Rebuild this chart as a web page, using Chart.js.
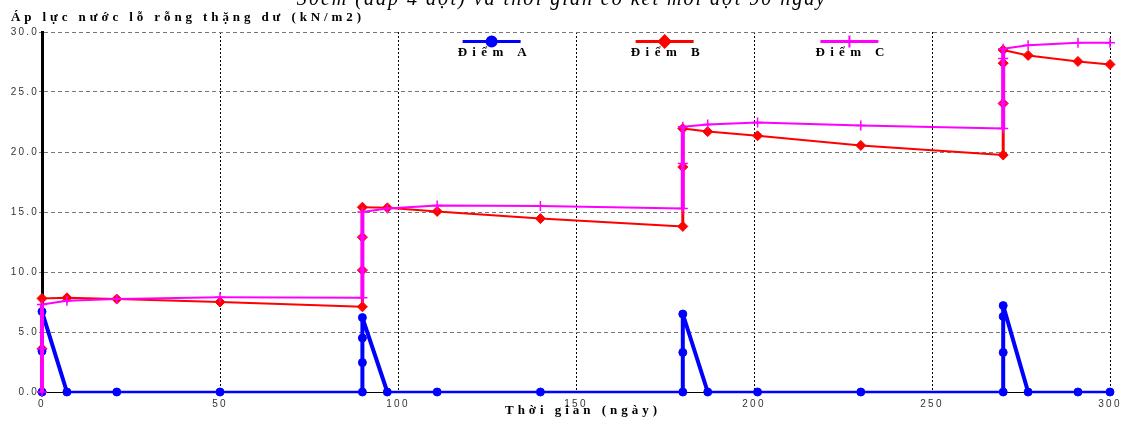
<!DOCTYPE html>
<html>
<head>
<meta charset="utf-8">
<script src="https://cdn.jsdelivr.net/npm/chart.js@4/dist/chart.umd.min.js"></script>
<style>
  html, body { margin: 0; padding: 0; background: #fff; }
</style>
</head>
<body>
<canvas id="myChart" width="1125" height="421"></canvas>
<script>
// texts
const topTitle = '30cm (đắp 4 đợt) và thời gian cố kết mỗi đợt 90 ngày';
const yTitle = 'Áp lực nước lỗ rỗng thặng dư (kN/m2)';
const xTitle = 'Thời gian (ngày)';
const labels = ['Điểm A', 'Điểm B', 'Điểm C'];

// ticks
const xTicks = [0, 50, 100, 150, 200, 250, 300];
const yTicks = [0, 5, 10, 15, 20, 25, 30];

// time (days), shared by all three points
const days = [0, 0, 0, 7, 21, 50, 90, 90, 90, 90, 97, 111, 140, 180, 180, 180, 187, 201, 230, 270, 270, 270, 270, 277, 291, 300];

// excess pore pressure (kN/m2)
const valA = [0, 3.4, 6.7, 0, 0, 0, 0, 2.45, 4.5, 6.2, 0, 0, 0, 0, 3.3, 6.5, 0, 0, 0, 0, 3.3, 6.3, 7.2, 0, 0, 0];
const valB = [0, 3.6, 7.8, 7.85, 7.75, 7.5, 7.1, 10.15, 12.9, 15.4, 15.35, 15.05, 14.45, 13.8, 18.75, 21.95, 21.7, 21.35, 20.55, 19.75, 24.05, 27.4, 28.5, 28.05, 27.55, 27.3];
const valC = [0, 3.6, 7.3, 7.6, 7.75, 7.9, 7.85, 10.15, 12.9, 15.0, 15.3, 15.55, 15.5, 15.3, 19.05, 22.1, 22.3, 22.45, 22.2, 21.95, 24.05, 27.8, 28.6, 28.9, 29.1, 29.1];

const pts = vals => days.map((d, i) => ({ x: d, y: vals[i] }));
const vertical = c => c.p0.parsed.x === c.p1.parsed.x;

// set text so that it spans a given width (old report fonts are letter-spaced)
function fitText(ctx, text, font, width) {
  ctx.font = font;
  ctx.letterSpacing = '0px';
  const w0 = ctx.measureText(text).width;
  const ls = Math.max(0, (width - w0) / Math.max(1, text.length - 1));
  ctx.letterSpacing = ls + 'px';
  return ls;
}

const textPlugin = {
  id: 'texts',
  beforeDraw(chart) {
    chart.ctx.letterSpacing = '2.2px';
  },
  afterDraw(chart) {
    const ctx = chart.ctx;
    const a = chart.chartArea;
    ctx.save();
    ctx.fillStyle = '#000';

    // cut-off caption at the very top
    ctx.textAlign = 'left';
    ctx.textBaseline = 'alphabetic';
    fitText(ctx, topTitle, 'italic 20px "Liberation Serif"', 528);
    ctx.fillText(topTitle, 297, 5);

    // y title
    fitText(ctx, yTitle, 'bold 13px "Liberation Serif"', 350);
    ctx.fillText(yTitle, 11, 21);

    // x title
    ctx.textBaseline = 'middle';
    fitText(ctx, xTitle, 'bold 13px "Liberation Serif"', 152);
    ctx.fillText(xTitle, 505, 411);

    // legend
    const pos = [0.421, 0.583, 0.756];
    chart.data.datasets.forEach((ds, i) => {
      const cx = a.left + a.width * pos[i];
      const ly = a.top + 9.5;
      ctx.letterSpacing = '0px';
      ctx.strokeStyle = ds.borderColor;
      ctx.fillStyle = ds.borderColor;
      ctx.lineWidth = 3;
      ctx.beginPath();
      ctx.moveTo(cx - 29, ly);
      ctx.lineTo(cx + 29, ly);
      ctx.stroke();
      ctx.lineWidth = 2;
      Chart.helpers.drawPoint(ctx, {
        pointStyle: ds.pointStyle,
        radius: ds.pointRadius + 1,
        borderWidth: 2,
        rotation: 0
      }, cx, ly);
      ctx.fillStyle = '#000';
      ctx.textAlign = 'left';
      fitText(ctx, ds.label, 'bold 13px "Liberation Serif"', 69);
      ctx.fillText(ds.label, cx - 34, a.top + 21);
    });
    ctx.restore();
    ctx.letterSpacing = '0px';
  }
};

const tickFont = { family: '"Liberation Sans", Arial, sans-serif', size: 10 };

const data = {
  datasets: [
    {
      label: labels[0],
      data: pts(valA),
      borderColor: '#0000ff',
      backgroundColor: '#0000ff',
      pointStyle: 'circle',
      pointRadius: 4,
      pointBorderWidth: 1,
      borderWidth: 2.5,
      borderJoinStyle: 'round',
      segment: { borderWidth: c => c.p0.parsed.y === c.p1.parsed.y ? 2.5 : 4 },
      order: 1
    },
    {
      label: labels[1],
      data: pts(valB),
      borderColor: '#ff0000',
      backgroundColor: '#ff0000',
      pointStyle: 'rectRot',
      pointRadius: 5,
      pointBorderWidth: 1,
      borderWidth: 2,
      borderJoinStyle: 'round',
      segment: { borderWidth: c => vertical(c) ? 3 : 2 },
      order: 2
    },
    {
      label: labels[2],
      data: pts(valC),
      borderColor: '#ff00ff',
      backgroundColor: '#ff00ff',
      pointStyle: 'cross',
      pointRadius: 5,
      pointBorderWidth: 1.5,
      borderWidth: 2,
      borderJoinStyle: 'round',
      segment: { borderWidth: c => vertical(c) ? 4 : 2 },
      order: 0
    }
  ]
};

const config = {
  type: 'line',
  data: data,
  options: {
    responsive: false,
    animation: false,
    devicePixelRatio: 1,
    clip: false,
    layout: { padding: { top: 32, right: 15, left: 0, bottom: 0 } },
    plugins: {
      legend: { display: false },
      tooltip: { enabled: false },
      title: { display: false }
    },
    elements: { line: { tension: 0 } },
    scales: {
      x: {
        type: 'linear',
        min: 0,
        max: 300,
        afterBuildTicks: s => { s.ticks = xTicks.map(v => ({ value: v })); },
        afterFit: s => { s.height = 29; },
        ticks: { font: tickFont, color: '#333', padding: 6, maxRotation: 0, autoSkip: false },
        grid: { color: '#000', lineWidth: 1, drawTicks: false },
        border: { color: '#000', width: 1, dash: [2, 2] }
      },
      y: {
        type: 'linear',
        min: 0,
        max: 30,
        afterBuildTicks: s => { s.ticks = yTicks.map(v => ({ value: v })); },
        afterFit: s => { s.width = 42; },
        ticks: { font: tickFont, color: '#333', padding: 0, callback: v => v.toFixed(1) },
        grid: { color: '#777', lineWidth: 1, tickLength: 3 },
        border: { color: '#000', width: 3, dash: [4, 3] }
      }
    }
  },
  plugins: [textPlugin]
};

const ctx = document.getElementById('myChart');
const chart = new Chart(ctx, config);
</script>
</body>
</html>
